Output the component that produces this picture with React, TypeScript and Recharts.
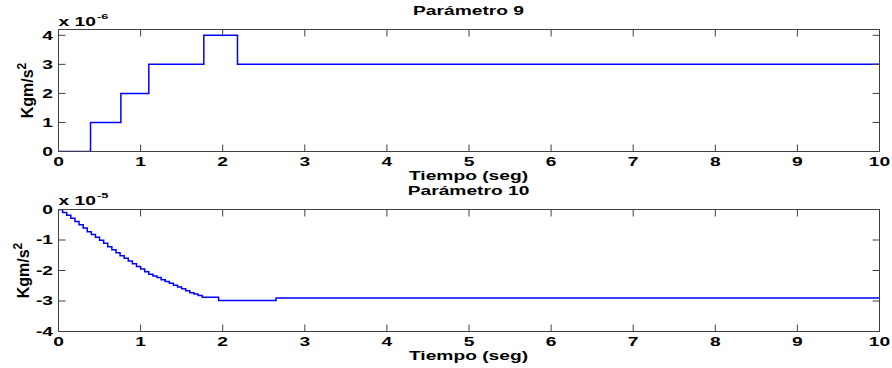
import { LineChart, Line, XAxis, YAxis } from "recharts"

// tick values
const timeTicks = [0, 1, 2, 3, 4, 5, 6, 7, 8, 9, 10]
const p9Ticks = [0, 1, 2, 3, 4]
const p10Ticks = [-4, -3, -2, -1, 0]

// Parámetro 9 (x 10^-6)
const p9Time = [0, 0.39, 0.76, 1.1, 1.77, 2.18, 10]
const p9Value = [0, 1, 2, 3, 4, 3, 3]

// Parámetro 10 (x 10^-5)
const p10Time = [
  0, 0.05, 0.1, 0.15, 0.2, 0.25, 0.3, 0.35, 0.4, 0.45, 0.5, 0.55, 0.6, 0.65, 0.7, 0.75, 0.8, 0.85,
  0.9, 0.95, 1.0, 1.05, 1.1, 1.15, 1.2, 1.25, 1.3, 1.35, 1.4, 1.45, 1.5, 1.55, 1.6, 1.65, 1.7, 1.75,
  1.95, 2.65, 10,
]
const p10Value = [
  0, -0.1, -0.19, -0.29, -0.39, -0.5, -0.61, -0.73, -0.82, -0.91, -1.01, -1.11, -1.22, -1.32, -1.42,
  -1.52, -1.6, -1.69, -1.78, -1.87, -1.95, -2.04, -2.12, -2.18, -2.23, -2.3, -2.36, -2.42, -2.48,
  -2.54, -2.6, -2.66, -2.73, -2.77, -2.82, -2.88, -2.98, -2.9, -2.9,
]

const p9Data = p9Time.map((t, i) => ({ t, v: p9Value[i] }))
const p10Data = p10Time.map((t, i) => ({ t, v: p10Value[i] }))

const FONT = '"Liberation Sans", Arial, Helvetica, sans-serif'
const SX = 1.6
const TICK_LEN = 7
const AXIS_COLOR = "#404040"
const LINE_COLOR = "#0000ff"

const label = (x: number, y: number, text: string, anchor: "start" | "middle" | "end" = "middle") => (
  <text
    transform={`translate(${x},${y}) scale(${SX},1)`}
    textAnchor={anchor}
    fontFamily={FONT}
    fontWeight="bold"
    fontSize={12}
    fill="#000"
  >
    {text}
  </text>
)

const BottomTick = (props: any) => {
  const { x, y, payload } = props
  return (
    <g>
      <line x1={x} y1={y} x2={x} y2={y - TICK_LEN} stroke={AXIS_COLOR} />
      {label(x, y + 14, String(payload.value))}
    </g>
  )
}

const TopTick = (props: any) => {
  const { x, y } = props
  return <line x1={x} y1={y} x2={x} y2={y + TICK_LEN} stroke={AXIS_COLOR} />
}

const LeftTick = (props: any) => {
  const { x, y, payload } = props
  return (
    <g>
      <line x1={x} y1={y} x2={x + TICK_LEN} y2={y} stroke={AXIS_COLOR} />
      {label(x - 5.5, y + 4.3, String(payload.value), "end")}
    </g>
  )
}

const RightTick = (props: any) => {
  const { x, y } = props
  return <line x1={x} y1={y} x2={x - TICK_LEN} y2={y} stroke={AXIS_COLOR} />
}

interface PanelProps {
  data: { t: number; v: number }[]
  yDomain: [number, number]
  yTicks: number[]
  height: number
  bottom: number
}

const Panel = ({ data, yDomain, yTicks, height, bottom }: PanelProps) => (
  <LineChart
    width={892}
    height={height}
    data={data}
    margin={{ top: 28.5, left: 18.5, right: 11.5, bottom }}
  >
    <XAxis
      dataKey="t"
      type="number"
      domain={[0, 10]}
      ticks={timeTicks}
      interval={0}
      height={20}
      tickSize={0}
      tickMargin={0}
      tickLine={false}
      axisLine={{ stroke: AXIS_COLOR }}
      tick={BottomTick}
    />
    <XAxis
      xAxisId="top"
      orientation="top"
      dataKey="t"
      type="number"
      domain={[0, 10]}
      ticks={timeTicks}
      interval={0}
      height={1}
      tickSize={0}
      tickMargin={0}
      tickLine={false}
      axisLine={{ stroke: AXIS_COLOR }}
      tick={TopTick}
    />
    <YAxis
      type="number"
      domain={yDomain}
      ticks={yTicks}
      interval={0}
      width={40}
      tickSize={0}
      tickMargin={0}
      tickLine={false}
      axisLine={{ stroke: AXIS_COLOR }}
      tick={LeftTick}
      allowDataOverflow
    />
    <YAxis
      yAxisId="right"
      orientation="right"
      type="number"
      domain={yDomain}
      ticks={yTicks}
      interval={0}
      width={1}
      tickSize={0}
      tickMargin={0}
      tickLine={false}
      axisLine={{ stroke: AXIS_COLOR }}
      tick={RightTick}
      allowDataOverflow
    />
    <Line
      type="stepAfter"
      dataKey="v"
      stroke={LINE_COLOR}
      strokeWidth={1.5}
      dot={false}
      isAnimationActive={false}
    />
  </LineChart>
)

const YTitle = ({ x, y }: { x: number; y: number }) => (
  <text
    transform={`translate(${x},${y}) rotate(-90)`}
    textAnchor="middle"
    fontFamily={FONT}
    fontWeight="bold"
    fontSize={16}
    fill="#000"
  >
    Kgm/s
    <tspan dy={-7} fontSize={12}>
      2
    </tspan>
  </text>
)

const Exponent = ({ y, exp }: { y: number; exp: string }) => (
  <g>
    {label(58.5, y, "x 10", "start")}
    <text
      transform={`translate(97,${y - 7.5}) scale(${SX},1)`}
      fontFamily={FONT}
      fontWeight="bold"
      fontSize={8}
      fill="#000"
    >
      {exp}
    </text>
  </g>
)

export default function App() {
  return (
    <div style={{ position: "absolute", left: 0, top: 0, width: 892, height: 368, background: "#fff" }}>
      <div style={{ position: "absolute", left: 0, top: 0 }}>
        <Panel data={p9Data} yDomain={[0, 4.2]} yTicks={p9Ticks} height={180} bottom={8.5} />
      </div>
      <div style={{ position: "absolute", left: 0, top: 180 }}>
        <Panel data={p10Data} yDomain={[-4, 0]} yTicks={p10Ticks} height={188} bottom={16.5} />
      </div>
      <svg
        width={892}
        height={368}
        style={{ position: "absolute", left: 0, top: 0, pointerEvents: "none" }}
      >
        {label(468.5, 15.3, "Parámetro 9")}
        <Exponent y={26} exp="-6" />
        <YTitle x={33} y={90.5} />
        {label(468.5, 180, "Tiempo (seg)")}

        {label(468.5, 195.3, "Parámetro 10")}
        <Exponent y={205} exp="-5" />
        <YTitle x={28.5} y={270.5} />
        {label(468.5, 360, "Tiempo (seg)")}
      </svg>
    </div>
  )
}
